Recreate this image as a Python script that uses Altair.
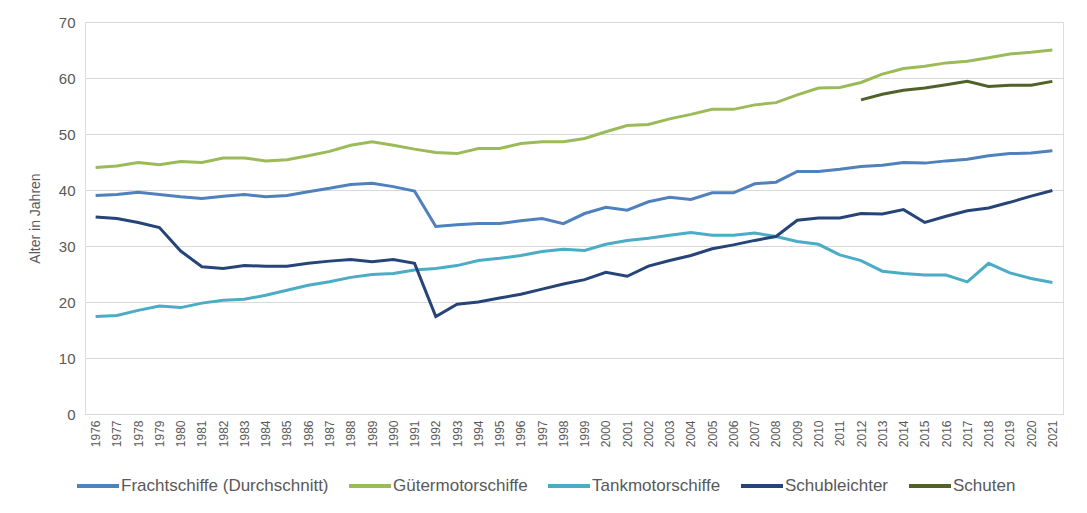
import altair as alt
import pandas as pd

years = list(range(1976, 2022))

fracht = [39.0, 39.2, 39.6, 39.2, 38.8, 38.5, 38.9, 39.2, 38.8, 39.0,
          39.7, 40.3, 41.0, 41.2, 40.6, 39.8, 33.5, 33.8, 34.0, 34.0,
          34.5, 34.9, 34.0, 35.8, 36.9, 36.4, 37.9, 38.7, 38.3, 39.5,
          39.5, 41.1, 41.4, 43.3, 43.3, 43.7, 44.2, 44.4, 44.9, 44.8,
          45.2, 45.5, 46.1, 46.5, 46.6, 47.0]
gueter = [44.0, 44.3, 44.9, 44.5, 45.1, 44.9, 45.7, 45.7, 45.2, 45.4,
          46.1, 46.9, 48.0, 48.6, 48.0, 47.3, 46.7, 46.5, 47.4, 47.4,
          48.3, 48.6, 48.6, 49.2, 50.4, 51.5, 51.7, 52.7, 53.5, 54.4,
          54.4, 55.2, 55.6, 57.0, 58.2, 58.3, 59.2, 60.7, 61.7, 62.1,
          62.7, 63.0, 63.6, 64.3, 64.6, 65.0]
tank = [17.4, 17.6, 18.5, 19.3, 19.0, 19.8, 20.3, 20.5, 21.2, 22.1,
        23.0, 23.6, 24.4, 24.9, 25.1, 25.7, 26.0, 26.5, 27.4, 27.8,
        28.3, 29.0, 29.4, 29.2, 30.3, 31.0, 31.4, 31.9, 32.4, 31.9,
        31.9, 32.3, 31.7, 30.8, 30.3, 28.4, 27.4, 25.5, 25.1, 24.8,
        24.8, 23.6, 26.9, 25.2, 24.2, 23.5]
schub = [35.2, 34.9, 34.2, 33.3, 29.1, 26.3, 26.0, 26.5, 26.4, 26.4,
         26.9, 27.3, 27.6, 27.2, 27.6, 26.9, 17.4, 19.6, 20.0, 20.7,
         21.4, 22.3, 23.2, 24.0, 25.3, 24.6, 26.4, 27.4, 28.3, 29.5,
         30.2, 31.0, 31.7, 34.6, 35.0, 35.0, 35.8, 35.7, 36.5, 34.2,
         35.3, 36.3, 36.8, 37.8, 38.9, 39.9]
schuten_years = list(range(2012, 2022))
schuten = [56.1, 57.1, 57.8, 58.2, 58.8, 59.4, 58.5, 58.7, 58.7, 59.4]

series_names = ["Frachtschiffe (Durchschnitt)", "Gütermotorschiffe",
                "Tankmotorschiffe", "Schubleichter", "Schuten"]
colors = ["#4F81BD", "#9BBB59", "#4BACC6", "#264478", "#4F6228"]

rows = []
for name, vals, yrs in [(series_names[0], fracht, years),
                        (series_names[1], gueter, years),
                        (series_names[2], tank, years),
                        (series_names[3], schub, years),
                        (series_names[4], schuten, schuten_years)]:
    for y, v in zip(yrs, vals):
        rows.append({"Jahr": str(y), "Serie": name, "Wert": v})
df = pd.DataFrame(rows)

font = "Liberation Sans"
grey = "#595959"

chart = alt.Chart(df).mark_line(strokeWidth=3).encode(
    x=alt.X("Jahr:O", sort=[str(y) for y in years],
            scale=alt.Scale(type="point", padding=0.5, domain=[str(y) for y in years]),
            axis=alt.Axis(title=None, labelAngle=-90, labelFontSize=12,
                          labelColor=grey, labelFont=font, ticks=False,
                          domainColor="#D9D9D9", labelPadding=6,
                          labelBaseline="middle", labelAlign="right")),
    y=alt.Y("Wert:Q", scale=alt.Scale(domain=[0, 70], nice=False),
            axis=alt.Axis(title="Alter in Jahren", values=list(range(0, 71, 10)),
                          titleFontSize=14, titleFontWeight="normal", titleColor=grey,
                          titleFont=font, labelFontSize=15, labelColor=grey,
                          labelFont=font, ticks=False, domain=False,
                          gridColor="#D9D9D9", labelPadding=10, titlePadding=16)),
    color=alt.Color("Serie:N", sort=series_names,
                    scale=alt.Scale(domain=series_names, range=colors),
                    legend=alt.Legend(title=None, orient="none", direction="horizontal",
                                      legendX=-10, legendY=441,
                                      symbolType="stroke", symbolSize=1764,
                                      symbolStrokeWidth=4, labelFontSize=17,
                                      labelColor=grey, labelFont=font,
                                      columnPadding=12, labelOffset=0,
                                      labelLimit=400)),
    order=alt.Order("Jahr:O"),
).properties(
    width=978, height=392,
    autosize=alt.AutoSizeParams(type="none"),
    padding={"left": 77, "top": 14, "right": 10, "bottom": 91},
).configure_view(stroke=None).configure(background="white")

chart.save("out.html", embed_options={"renderer": "svg", "actions": False})
